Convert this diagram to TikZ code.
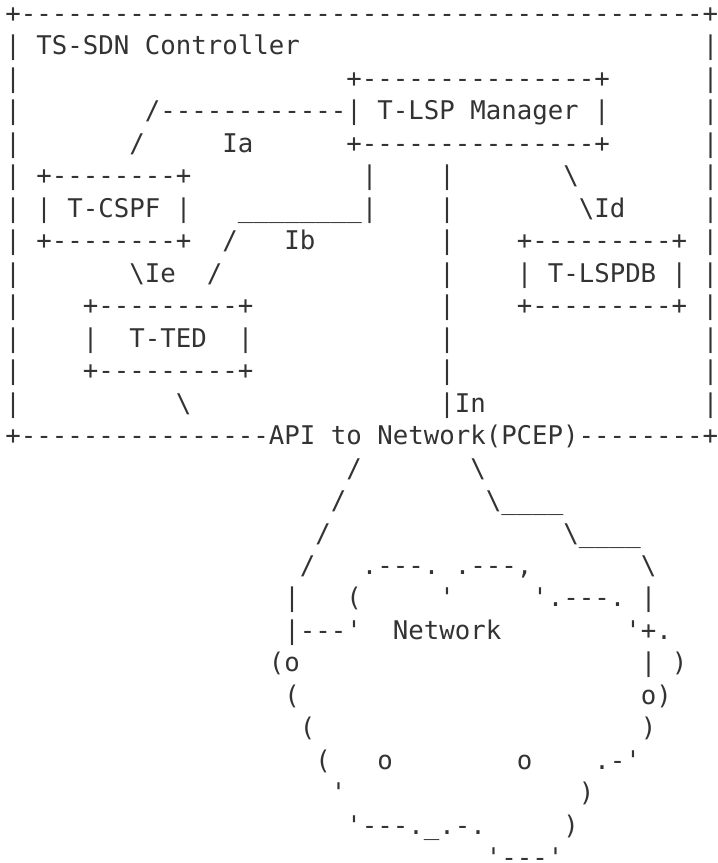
\documentclass[tikz,border=0pt]{standalone}
\usepackage{fontspec}
\setmonofont{DejaVu Sans Mono}
\usepackage{xcolor}
\usepackage{tikz}
\definecolor{asciiink}{HTML}{333333}

% repeat a character, and runs of blanks
\ExplSyntaxOn
\NewDocumentCommand\rep{mm}{\prg_replicate:nn{#1}{#2}}
\ExplSyntaxOff
\newcommand{\gap}[1]{\rep{#1}{~}}
\newcommand{\bsl}{\textbackslash}
% right border column sits on the page edge
\newcommand{\edge}[1]{\rlap{#1}}

\begin{document}
\begin{tikzpicture}[x=0.5pt, y=-0.5pt,
    asciirow/.style={anchor=base west, inner sep=0pt, text=asciiink,
        font=\ttfamily\fontsize{12.87pt}{16pt}\selectfont}]
    \useasboundingbox (0,0) rectangle (718,863);

    % controller box
    \node[asciirow] (row01) at (5, 22.5)  {+\rep{44}{-}\edge{+}};
    \node[asciirow] (row02) at (5, 54.97) {| TS-SDN Controller\gap{26}\edge{|}};
    \node[asciirow] (row03) at (5, 87.44) {|\gap{21}+\rep{15}{-}+\gap{6}\edge{|}};
    \node[asciirow] (row04) at (5, 119.91) {|\gap{8}/\rep{12}{-}| T-LSP Manager |\gap{6}\edge{|}};
    \node[asciirow] (row05) at (5, 152.38) {|\gap{7}/\gap{5}Ia\gap{6}+\rep{15}{-}+\gap{6}\edge{|}};
    \node[asciirow] (row06) at (5, 184.85) {| +\rep{8}{-}+\gap{11}|\gap{4}|\gap{7}\bsl\gap{8}\edge{|}};
    \node[asciirow] (row07) at (5, 217.32) {| | T-CSPF |\gap{3}\rep{8}{\_}|\gap{4}|\gap{8}\bsl{}Id\gap{5}\edge{|}};
    \node[asciirow] (row08) at (5, 249.79) {| +\rep{8}{-}+\gap{2}/\gap{3}Ib\gap{8}|\gap{4}+\rep{9}{-}+ \edge{|}};
    \node[asciirow] (row09) at (5, 282.26) {|\gap{7}\bsl{}Ie\gap{2}/\gap{14}|\gap{4}| T-LSPDB | \edge{|}};
    \node[asciirow] (row10) at (5, 314.73) {|\gap{4}+\rep{9}{-}+\gap{12}|\gap{4}+\rep{9}{-}+ \edge{|}};
    \node[asciirow] (row11) at (5, 347.2)  {|\gap{4}|\gap{2}T-TED\gap{2}|\gap{12}|\gap{16}\edge{|}};
    \node[asciirow] (row12) at (5, 379.67) {|\gap{4}+\rep{9}{-}+\gap{12}|\gap{16}\edge{|}};
    \node[asciirow] (row13) at (5, 412.14) {|\gap{10}\bsl\gap{16}|In\gap{14}\edge{|}};
    \node[asciirow] (row14) at (5, 444.61) {+\rep{16}{-}API to Network(PCEP)\rep{8}{-}\edge{+}};

    % links down to the network cloud
    \node[asciirow] (row15) at (5, 477.08) {\gap{22}/\gap{7}\bsl};
    \node[asciirow] (row16) at (5, 509.55) {\gap{21}/\gap{9}\bsl\rep{4}{\_}};
    \node[asciirow] (row17) at (5, 542.02) {\gap{20}/\gap{15}\bsl\rep{4}{\_}};
    \node[asciirow] (row18) at (5, 574.49) {\gap{19}/\gap{3}.---. .---,\gap{7}\bsl};

    % network cloud
    \node[asciirow] (row19) at (5, 606.96) {\gap{18}|\gap{3}(\gap{5}'\gap{5}'.---. |};
    \node[asciirow] (row20) at (5, 639.43) {\gap{18}|---'\gap{2}Network\gap{8}'+.};
    \node[asciirow] (row21) at (5, 671.9)  {\gap{17}(o\gap{22}| )};
    \node[asciirow] (row22) at (5, 704.37) {\gap{18}(\gap{22}o)};
    \node[asciirow] (row23) at (5, 736.84) {\gap{19}(\gap{21})};
    \node[asciirow] (row24) at (5, 769.31) {\gap{20}(\gap{3}o\gap{8}o\gap{4}.-'};
    \node[asciirow] (row25) at (5, 801.78) {\gap{21}'\gap{15})};
    \node[asciirow] (row26) at (5, 834.25) {\gap{22}'---.\_.-.\gap{5})};
    \node[asciirow] (row27) at (5, 858) {\raisebox{-4.36pt}[8pt][0pt]{\gap{31}'---'}};
\end{tikzpicture}
\end{document}
